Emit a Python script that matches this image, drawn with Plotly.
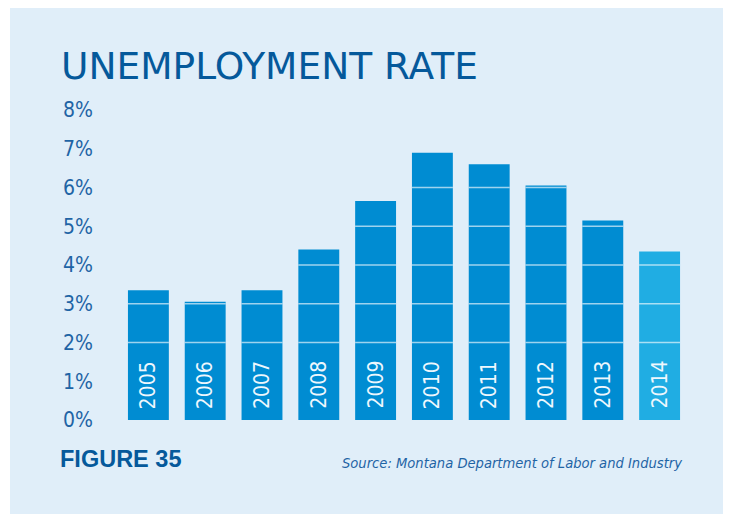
import plotly.graph_objects as go

years = ["2005", "2006", "2007", "2008", "2009", "2010", "2011", "2012", "2013", "2014"]
rates = [3.35, 3.05, 3.35, 4.4, 5.65, 6.9, 6.6, 6.05, 5.15, 4.35]
tick_vals = [0, 1, 2, 3, 4, 5, 6, 7, 8]
tick_text = ["0%", "1%", "2%", "3%", "4%", "5%", "6%", "7%", "8%"]

# page has an 8px body margin, so the figure is 8px smaller than the window
W, H = 723, 506
ML, MR, MT, MB = 112, 43, 102, 94
PW, PH = W - ML - MR, H - MT - MB

panel = "#e0eef9"
bar_blue = "#008cd2"
bar_light = "#20ade3"
dark_blue = "#05599b"
label_blue = "#1f64a5"
narrow = "Liberation Sans Narrow, DejaVu Sans Condensed, Roboto, sans-serif"

colors = [bar_blue] * (len(years) - 1) + [bar_light]

fig = go.Figure(
    go.Bar(
        x=years,
        y=rates,
        marker=dict(color=colors, line=dict(width=0)),
        hoverinfo="skip",
    )
)

# light panel behind everything
fig.add_shape(
    type="rect", xref="paper", yref="paper", layer="below",
    x0=(2 - ML) / PW, x1=(W - ML) / PW + 0.01,
    y0=-MB / PH - 0.01, y1=(H - MB + 2) / PH,
    fillcolor=panel, line=dict(width=0),
)

# grid lines show only across the bars (none at 1%, where the years sit)
half = 0.36
for i, v in enumerate(rates):
    for t in tick_vals[2:]:
        if t < v:
            fig.add_shape(
                type="line", xref="x", yref="y", layer="above",
                x0=i - half, x1=i + half, y0=t, y1=t,
                line=dict(color="rgba(255,255,255,0.62)", width=1.5),
            )

# year labels, rotated, sitting at the foot of each bar
for i, yr in enumerate(years):
    fig.add_annotation(
        text=yr, x=i, y=0, xref="x", yref="y",
        xanchor="center", yanchor="bottom", yshift=9, textangle=-90,
        showarrow=False, font=dict(family=narrow, size=21, color="#eef7fd"),
    )

fig.add_annotation(
    text="<b>FIGURE 35</b>", xref="paper", yref="paper",
    x=(50 - ML) / PW, y=(H - MB - 451) / PH, xanchor="left", yanchor="middle",
    showarrow=False, font=dict(family="Liberation Sans", size=23.5, color=dark_blue),
)
fig.add_annotation(
    text="<i>Source: Montana Department of Labor and Industry</i>",
    xref="paper", yref="paper",
    x=(676 - ML) / PW, y=(H - MB - 454) / PH, xanchor="right", yanchor="middle",
    showarrow=False, font=dict(family=narrow, size=14.6, color=label_blue),
)

fig.update_layout(
    width=W, height=H,
    margin=dict(l=ML, r=MR, t=MT, b=MB),
    paper_bgcolor="white",
    plot_bgcolor="rgba(0,0,0,0)",
    bargap=0.28,
    showlegend=False,
    title=dict(
        text="UNEMPLOYMENT RATE",
        xref="container", yref="container",
        x=53 / W, y=1 - 58 / H, xanchor="left", yanchor="middle",
        font=dict(family="DejaVu Sans", size=37.5, color=dark_blue),
    ),
    xaxis=dict(showticklabels=False, showgrid=False, zeroline=False, showline=False,
               range=[-0.5, 9.5]),
    yaxis=dict(
        range=[0, 8], tickvals=tick_vals, ticktext=tick_text,
        showgrid=False, zeroline=False, showline=False, ticks="",
        ticklabelstandoff=26,
        tickfont=dict(family=narrow, size=21, color=label_blue),
    ),
)

fig.write_html("out.html")
